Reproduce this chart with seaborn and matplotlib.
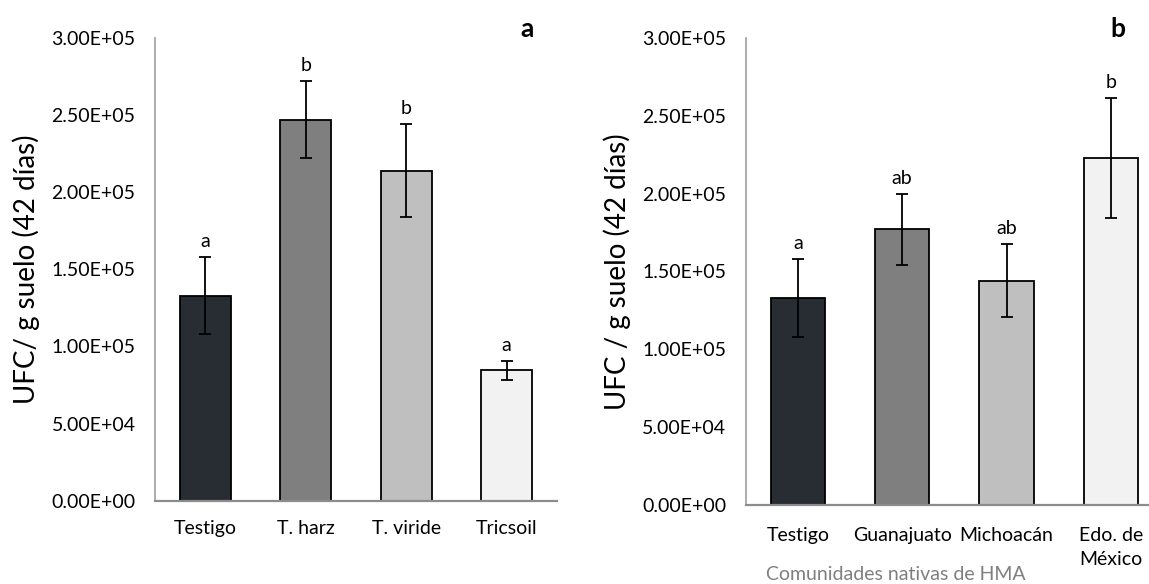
import matplotlib
matplotlib.use("Agg")
import matplotlib.pyplot as plt
import seaborn as sns
import pandas as pd
from matplotlib.ticker import FuncFormatter, MultipleLocator

# ---------------- data ----------------
cats_a = ["Testigo", "T. harz", "T. viride", "Tricsoil"]
vals_a = [133000, 247000, 214000, 84500]
errs_a = [25000, 25000, 30000, 6000]
lets_a = ["a", "b", "b", "a"]

cats_b = ["Testigo", "Guanajuato", "Michoacán", "Edo. de\nMéxico"]
vals_b = [133000, 177000, 144000, 223000]
errs_b = [25000, 23000, 23500, 38500]
lets_b = ["a", "ab", "ab", "b"]

bar_colors = ["#262B35", "#7F7F7F", "#BFBFBF", "#F2F2F2"]

ylabel_a = "UFC/ g suelo (42 días)"
ylabel_b = "UFC / g suelo (42 días)"
xlabel_b = "Comunidades nativas de HMA"

sns.set_theme(style="white")
plt.rcParams["font.family"] = ["Lato", "DejaVu Sans"]

W, H = 1149, 584
fig = plt.figure(figsize=(W / 100, H / 100), dpi=100)

def px_axes(x0, x1, y_top, y_bot):
    return fig.add_axes([x0 / W, (H - y_bot) / H, (x1 - x0) / W, (y_bot - y_top) / H])

ax_a = px_axes(155, 557, 38, 500.7)
ax_b = px_axes(745.7, 1163, 38, 505)

fmt = FuncFormatter(lambda v, p: f"{v:.2E}")

def draw(ax, cats, vals, errs, lets, width, ylabel, xpad):
    df = pd.DataFrame({"cat": cats, "val": vals})
    sns.barplot(data=df, x="cat", y="val", hue="cat", palette=bar_colors,
                width=width, edgecolor="black", linewidth=1.3,
                legend=False, ax=ax, errorbar=None, dodge=False)
    xs = range(len(cats))
    ax.errorbar(list(xs), vals, yerr=errs, fmt="none", ecolor="black",
                elinewidth=1.3, capsize=4, capthick=1.3, zorder=5)
    for x, v, e, t in zip(xs, vals, errs, lets):
        ax.annotate(t, (x, v + e), xytext=(0, 5), textcoords="offset points",
                    ha="center", va="bottom", fontsize=14, color="black")
    ax.set_xlim(-0.5, len(cats) - 0.5)
    ax.set_ylim(0, 300000)
    ax.yaxis.set_major_locator(MultipleLocator(50000))
    ax.yaxis.set_major_formatter(fmt)
    ax.set_xlabel("")
    ax.set_ylabel(ylabel, fontsize=20, labelpad=8, color="black")
    ax.tick_params(axis="y", length=0, pad=14, labelsize=14, labelcolor="black")
    ax.tick_params(axis="x", length=0, pad=xpad, labelsize=14, labelcolor="black")
    for lab in ax.get_xticklabels():
        lab.set_linespacing(1.45)
    for s in ["top", "right"]:
        ax.spines[s].set_visible(False)
    ax.spines["left"].set_color("#A6A6A6")
    ax.spines["left"].set_linewidth(1.3)
    ax.spines["bottom"].set_color("#8C8C8C")
    ax.spines["bottom"].set_linewidth(1.6)
    ax.grid(False)

draw(ax_a, cats_a, vals_a, errs_a, lets_a, 0.503, ylabel_a, 14)
draw(ax_b, cats_b, vals_b, errs_b, lets_b, 0.52, ylabel_b, 16)

fig.text(527 / W, 1 - 29 / H, "a", ha="center", va="center",
         fontsize=19, fontweight="bold", color="black")
fig.text(1118 / W, 1 - 29 / H, "b", ha="center", va="center",
         fontsize=19, fontweight="bold", color="black")
fig.text(896 / W, 1 - 574 / H, xlabel_b, ha="center", va="center",
         fontsize=14, color="#7F7F7F")

fig.savefig("out.png", dpi=100, facecolor="white")
